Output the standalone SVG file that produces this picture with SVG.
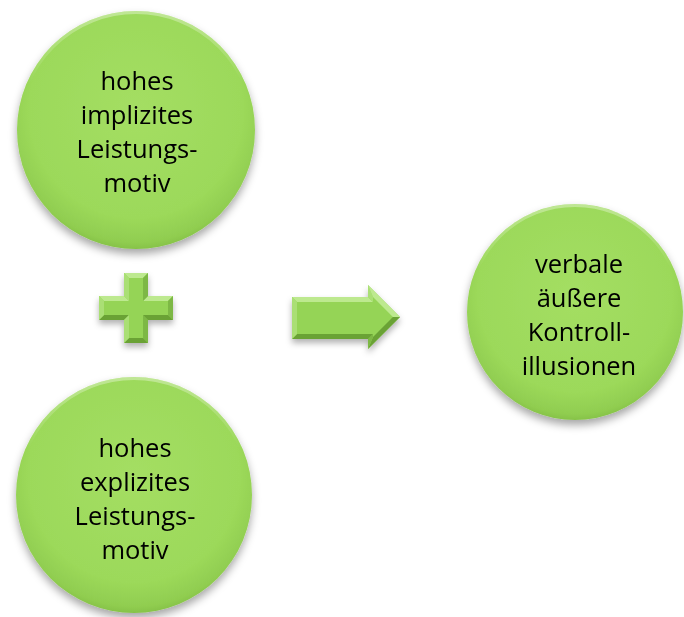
<svg xmlns="http://www.w3.org/2000/svg" width="684" height="617" viewBox="0 0 684 617">
  <defs>
    <radialGradient id="ballFill" cx="50%" cy="42%" r="60%">
      <stop offset="0%" stop-color="#a4de63"/>
      <stop offset="75%" stop-color="#9cd95a"/>
      <stop offset="92%" stop-color="#90cd50"/>
      <stop offset="100%" stop-color="#7fbb43"/>
    </radialGradient>
    <linearGradient id="rimLight" x1="0" y1="0" x2="0" y2="1">
      <stop offset="0%" stop-color="#ffffff" stop-opacity="0.35"/>
      <stop offset="30%" stop-color="#ffffff" stop-opacity="0"/>
      <stop offset="100%" stop-color="#ffffff" stop-opacity="0"/>
    </linearGradient>
    <filter id="shadow" x="-20%" y="-20%" width="140%" height="150%">
      <feDropShadow dx="0" dy="5" stdDeviation="4" flood-color="#000000" flood-opacity="0.35"/>
    </filter>
    <filter id="shapeShadow" x="-20%" y="-20%" width="140%" height="160%">
      <feDropShadow dx="0" dy="4" stdDeviation="3" flood-color="#000000" flood-opacity="0.3"/>
    </filter>
  </defs>
  <style>
    .ball { fill: url(#ballFill); }
    .rim { fill: none; stroke: url(#rimLight); stroke-width: 3; }
    .label { font-family: "Open Sans", "Liberation Sans", sans-serif; font-size: 25.5px; fill: #000000; text-anchor: middle; font-variant-ligatures: none; }
    .face { fill: #95d457; }
    .up { fill: #bde98f; }
    .left { fill: #aadf75; }
    .right { fill: #7db845; }
    .down { fill: #6ba236; }
  </style>

  <!-- nodes -->
  <g id="node-implizit" filter="url(#shadow)">
    <circle class="ball" cx="136" cy="130" r="119"/>
    <circle class="rim" cx="136" cy="130" r="117.5"/>
    <text class="label" x="137" y="90">hohes</text>
    <text class="label" x="137" y="124">implizites</text>
    <text class="label" x="137" y="158">Leistungs-</text>
    <text class="label" x="137" y="192">motiv</text>
  </g>

  <g id="node-explizit" filter="url(#shadow)">
    <circle class="ball" cx="134" cy="495" r="118"/>
    <circle class="rim" cx="134" cy="495" r="116.5"/>
    <text class="label" x="135" y="457">hohes</text>
    <text class="label" x="135" y="491">explizites</text>
    <text class="label" x="135" y="525">Leistungs-</text>
    <text class="label" x="135" y="559">motiv</text>
  </g>

  <g id="node-kontrollillusionen" filter="url(#shadow)">
    <circle class="ball" cx="575" cy="312" r="108"/>
    <circle class="rim" cx="575" cy="312" r="106.5"/>
    <text class="label" x="579" y="273">verbale</text>
    <text class="label" x="579" y="307">äußere</text>
    <text class="label" x="579" y="341">Kontroll-</text>
    <text class="label" x="579" y="375">illusionen</text>
  </g>

  <!-- connectors: plus sign and arrow -->
  <g id="connectors">
    <g id="plus" filter="url(#shapeShadow)">
      <polygon class="face" points="124,273 148,273 148,296 173,296 173,320 148,320 148,343 124,343 124,320 99,320 99,296 124,296"/>
      <polygon class="up" points="124,273 148,273 143,278 129,278"/>
      <polygon class="up" points="99,296 124,296 129,301 104,301"/>
      <polygon class="up" points="148,296 173,296 168,301 143,301"/>
      <polygon class="right" points="148,273 148,296 143,301 143,278"/>
      <polygon class="right" points="173,296 173,320 168,315 168,301"/>
      <polygon class="right" points="148,320 148,343 143,338 143,315"/>
      <polygon class="down" points="173,320 148,320 143,315 168,315"/>
      <polygon class="down" points="148,343 124,343 129,338 143,338"/>
      <polygon class="down" points="124,320 99,320 104,315 129,315"/>
      <polygon class="left" points="124,343 124,320 129,315 129,338"/>
      <polygon class="left" points="99,320 99,296 104,301 104,315"/>
      <polygon class="left" points="124,296 124,273 129,278 129,301"/>
    </g>
    <g id="arrow" filter="url(#shapeShadow)">
      <polygon class="face" points="292,297 368,297 368,285 400,317 368,349 368,339 292,339"/>
      <polygon class="up" points="292,297 368,297 373,302 297,302"/>
      <polygon class="left" points="368,297 368,285 373,297.1 373,302"/>
      <polygon class="up" points="368,285 400,317 392.9,317 373,297.1"/>
      <polygon class="down" points="400,317 368,349 373,336.9 392.9,317"/>
      <polygon class="right" points="368,349 368,339 373,334 373,336.9"/>
      <polygon class="down" points="368,339 292,339 297,334 373,334"/>
      <polygon class="left" points="292,339 292,297 297,302 297,334"/>
    </g>
  </g>
</svg>
